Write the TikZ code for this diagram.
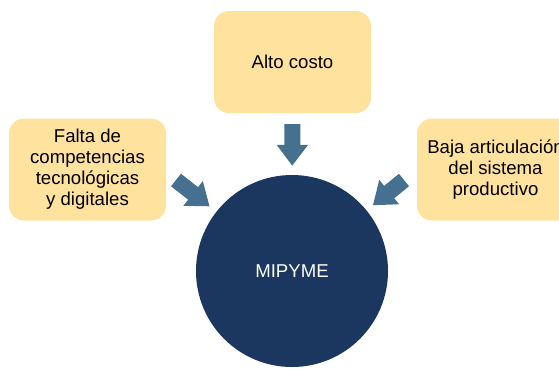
\documentclass[tikz,border=0pt]{standalone}
\usepackage{fontspec}
\setmainfont{Liberation Sans}
\usetikzlibrary{arrows.meta,positioning}
\definecolor{mpgold}{HTML}{FFE29E}
\definecolor{mpnavy}{HTML}{1B365F}
\definecolor{mpsteel}{HTML}{46708F}

\begin{document}
\begin{tikzpicture}[x=1pt, y=-1pt,
    every node/.style={align=center, font=\fontsize{18.6}{21}\selectfont},
    cause/.style={fill=mpgold, rounded corners=15pt, minimum width=157pt, minimum height=102pt, text=black},
    core/.style={circle, fill=mpnavy, minimum size=192pt, text=white},
    bigarrow/.style={draw=mpsteel, line width=16pt, -{Triangle[width=30pt, length=21pt]}}
  ]
    \useasboundingbox (0,0) rectangle (559,368);

    \node[core] (mipyme) at (292,271) {\raisebox{-6pt}{MIPYME}};
    \node[cause] (alto) at (292.5,62) {\raisebox{-2pt}{Alto costo}};
    \node[cause] (falta) at (87.5,169.5) {Falta de\\competencias\\tecnológicas\\y digitales};
    \node[cause] (baja) at (495.5,169.5) {Baja articulación\\del sistema\\productivo};

    % arrow tails
    \coordinate (ftail) at (176,180);
    \coordinate (btail) at (404,180);

    \draw[bigarrow, shorten <=11pt, shorten >=9pt] (alto) -- (mipyme);
    \draw[bigarrow, shorten >=8.5pt] (ftail) -- (mipyme);
    \draw[bigarrow, shorten >=8pt] (btail) -- (mipyme);
  \end{tikzpicture}
\end{document}
